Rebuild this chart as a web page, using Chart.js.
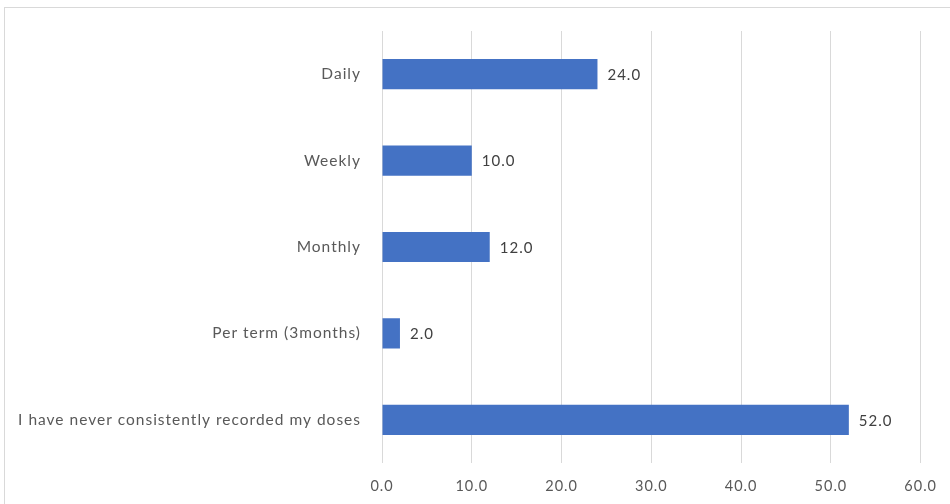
<!DOCTYPE html>
<html>
<head>
<meta charset="utf-8">
<script src="https://cdn.jsdelivr.net/npm/chart.js@4/dist/chart.umd.min.js"></script>
<style>
  html, body { margin: 0; padding: 0; background: #fff; overflow: hidden; }
  #frame { position: absolute; left: 4px; top: 7px; width: 980px; height: 540px; border: 1px solid #d9d9d9; }
  #wrap { position: absolute; left: 0; top: 0; width: 950px; height: 504px; }
</style>
</head>
<body>
<div id="frame"></div>
<div id="wrap"><canvas id="c" width="950" height="504"></canvas></div>
<script>
// Data
const categories = [
  'Daily',
  'Weekly',
  'Monthly',
  'Per term (3months)',
  'I have never consistently recorded my doses',
];
const values = [24.0, 10.0, 12.0, 2.0, 52.0];
const xTicks = [0, 10, 20, 30, 40, 50, 60];

const BAR = '#4472c4';
const TEXT = '#595959';
const GRID = '#d9d9d9';
const FONT = 'Lato, "Open Sans", sans-serif';

// The original text is Calibri rendered loosely; widen the letters a bit.
const spacing = {
  id: 'spacing',
  beforeDraw(chart) {
    chart.ctx.letterSpacing = '1px';
  },
};

// Draws the value next to the end of each bar.
const valueLabels = {
  id: 'valueLabels',
  afterDatasetsDraw(chart) {
    const ctx = chart.ctx;
    const meta = chart.getDatasetMeta(0);
    ctx.save();
    ctx.font = '15px ' + FONT;
    ctx.fillStyle = '#404040';
    ctx.textAlign = 'left';
    ctx.textBaseline = 'middle';
    meta.data.forEach((bar, i) => {
      ctx.fillText(values[i].toFixed(1), bar.x + 10, bar.y + 1);
    });
    ctx.restore();
  },
};

new Chart(document.getElementById('c'), {
  type: 'bar',
  data: {
    labels: categories,
    datasets: [{
      data: values,
      backgroundColor: BAR,
      borderWidth: 0,
      barPercentage: 0.7,
      categoryPercentage: 0.5,
    }],
  },
  options: {
    indexAxis: 'y',
    responsive: false,
    animation: false,
    devicePixelRatio: 1,
    layout: { padding: { top: 31, right: 28, left: 0, bottom: 0 } },
    plugins: { legend: { display: false }, tooltip: { enabled: false } },
    scales: {
      x: {
        min: 0,
        max: 60,
        afterBuildTicks: (scale) => { scale.ticks = xTicks.map((v) => ({ value: v })); },
        afterFit: (scale) => { scale.height = 41; },
        border: { display: false },
        grid: { color: GRID, lineWidth: 1, drawTicks: false },
        ticks: {
          padding: 15,
          color: TEXT,
          font: { family: FONT, size: 14.5 },
          callback: (v) => Number(v).toFixed(1),
        },
      },
      y: {
        afterFit: (scale) => { scale.width = 382; },
        border: { display: false },
        grid: { display: false },
        ticks: {
          padding: 13,
          color: TEXT,
          font: { family: FONT, size: 15.5 },
        },
      },
    },
  },
  plugins: [spacing, valueLabels],
});
</script>
</body>
</html>
